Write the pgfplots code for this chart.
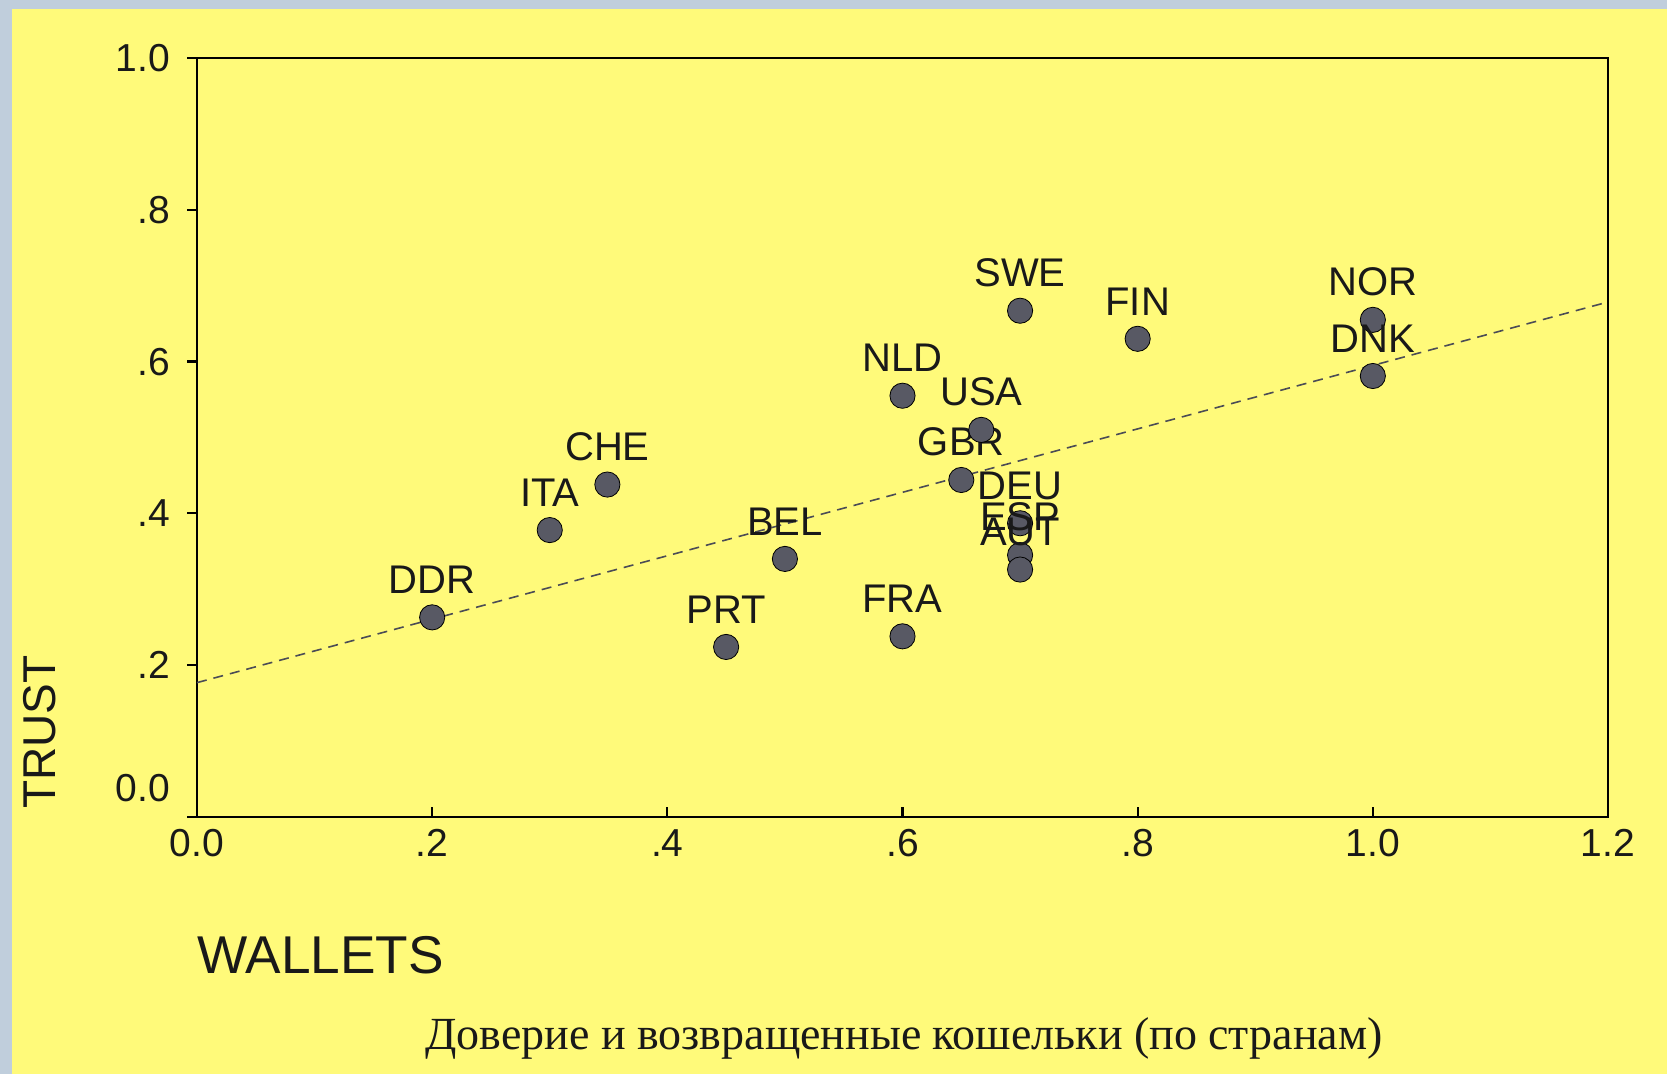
\documentclass[border=0pt]{standalone}
\usepackage{fontspec}
\setmainfont{Liberation Sans}
\newfontfamily\capfont{Liberation Serif}
\usepackage{pgfplots}
\pgfplotsset{compat=1.18}
\definecolor{bgyellow}{RGB}{255,250,122}
\definecolor{bgblue}{RGB}{192,206,220}
\definecolor{dotgray}{RGB}{88,89,100}
\definecolor{txt}{RGB}{25,25,25}
\begin{document}
\begin{tikzpicture}
\useasboundingbox (0,0) rectangle (833.5pt,537pt);
\fill[bgblue] (0,0) rectangle (833.5pt,537pt);
\fill[bgyellow] (6pt,0) rectangle (833.5pt,532.5pt);
\begin{axis}[
  at={(98.5pt,128.5pt)}, anchor=south west,
  scale only axis, width=705.5pt, height=379.5pt,
  xmin=0, xmax=1.2, ymin=0, ymax=1,
  axis line style={line width=1.4pt, black},
  tick pos=left, tick align=inside, major tick length=5pt,
  tick style={line width=1.1pt, black},
  y tick style={xshift=-5pt},
  xtick={0,0.2,0.4,0.6,0.8,1.0,1.2},
  xticklabels={0.0,.2,.4,.6,.8,1.0,1.2},
  ytick={0.2,0.4,0.6,0.8,1.0},
  yticklabels={.2,.4,.6,.8,1.0},
  extra y ticks={0},
  extra y tick labels={0.0},
  extra y tick style={yticklabel style={yshift=14.4pt}},
  xticklabel style={font=\fontsize{19.5}{20}\selectfont, text=txt, inner sep=0pt, yshift=-6pt},
  yticklabel style={font=\fontsize{19.5}{20}\selectfont, text=txt, inner sep=0pt, xshift=-13.3pt},
  clip=false,
]
\addplot[dotgray!85!black, dash pattern=on 5pt off 3.5pt, line width=0.8pt]
  coordinates {(0,0.177) (1.2,0.6785)};
\addplot[only marks, mark=*, mark size=6.3pt,
  mark options={fill=dotgray, draw=none},
  point meta=explicit symbolic,
  nodes near coords,
  nodes near coords style={anchor=south, inner sep=0pt, yshift=11.7pt,
    font=\fontsize{20}{20}\selectfont, text=txt}]
  table[meta=label] {
x y label
0.2 0.263 DDR
0.3 0.378 ITA
0.349 0.438 CHE
0.45 0.224 PRT
0.5 0.340 BEL
0.6 0.238 FRA
0.6 0.555 NLD
0.65 0.444 GBR
0.667 0.510 USA
0.7 0.667 SWE
0.7 0.387 DEU
0.7 0.345 ESP
0.7 0.326 AUT
0.8 0.630 FIN
1.0 0.655 NOR
1.0 0.581 DNK
};
\end{axis}
\node[anchor=base west, inner sep=0pt, font=\fontsize{26.6}{27}\selectfont, text=txt] at (98.5pt,50pt) {WALLETS};
\node[rotate=90, anchor=center, inner sep=0pt, font=\fontsize{23}{23}\selectfont, text=txt] at (20pt,171pt) {TRUST};
\node[anchor=base, inner sep=0pt, font=\capfont\fontsize{23}{23}\selectfont, text=txt] at (452pt,12pt) {Доверие и возвращенные кошельки (по странам)};
\end{tikzpicture}
\end{document}
